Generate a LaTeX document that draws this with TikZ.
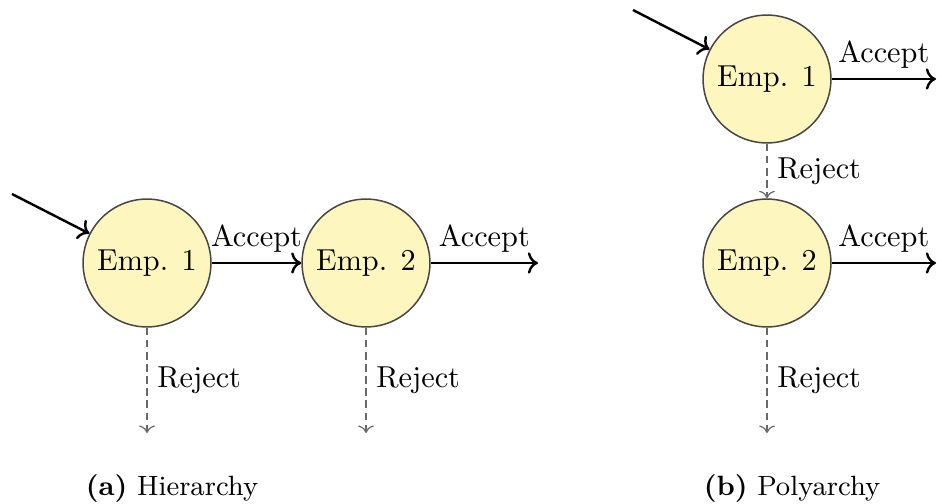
\documentclass[tikz,border=0pt]{standalone}
\usetikzlibrary{arrows.meta}
\definecolor{empfill}{RGB}{253,246,190}
\definecolor{empline}{RGB}{70,70,70}
\definecolor{rejline}{RGB}{105,105,105}
\begin{document}
\begin{tikzpicture}[x=0.33pt,y=-0.33pt,
  emp/.style={circle,draw=empline,fill=empfill,line width=0.5pt,minimum size=42.2pt,inner sep=0pt},
  accept/.style={->,thick,black},
  reject/.style={->,rejline,line width=0.4pt,dash pattern=on 2.5pt off 1.5pt},
  lbl/.style={inner sep=3.2pt,text=black},
  subcap/.style={anchor=base,font=\fontsize{9.2}{11}\selectfont}]
\useasboundingbox (0,0) rectangle (937,504);

% (a) hierarchy: one employee after the other
\node[emp] (a1) at (147,263) {Emp. 1};
\node[emp] (a2) at (366,263) {Emp. 2};
\coordinate (ain) at (12,194);
\coordinate (aout) at (538,263);
\coordinate (ar1) at (147,433);
\coordinate (ar2) at (366,433);
\draw[accept] (ain) -- (a1);
\draw[accept] (a1) -- node[lbl,above] {Accept} (a2);
\draw[accept] (a2) -- node[lbl,above] {Accept} (aout);
\draw[reject] (a1) -- node[lbl,right] {Reject} (ar1);
\draw[reject] (a2) -- node[lbl,right] {Reject} (ar2);
\node[subcap] (capa) at (172,495) {\textbf{(a)}\ Hierarchy};

% (b) polyarchy: the second employee sees what the first rejects
\node[emp] (b1) at (767,79) {Emp. 1};
\node[emp] (b2) at (767,263) {Emp. 2};
\coordinate (bin) at (633,10);
\coordinate (bout1) at (936,79);
\coordinate (bout2) at (936,263);
\coordinate (br2) at (767,433);
\draw[accept] (bin) -- (b1);
\draw[accept] (b1) -- node[lbl,above] {Accept} (bout1);
\draw[accept] (b2) -- node[lbl,above] {Accept} (bout2);
\draw[reject] (b1) -- node[lbl,right] {Reject} (b2);
\draw[reject] (b2) -- node[lbl,right] {Reject} (br2);
\node[subcap] (capb) at (792,495) {\textbf{(b)}\ Polyarchy};
\end{tikzpicture}
\end{document}
